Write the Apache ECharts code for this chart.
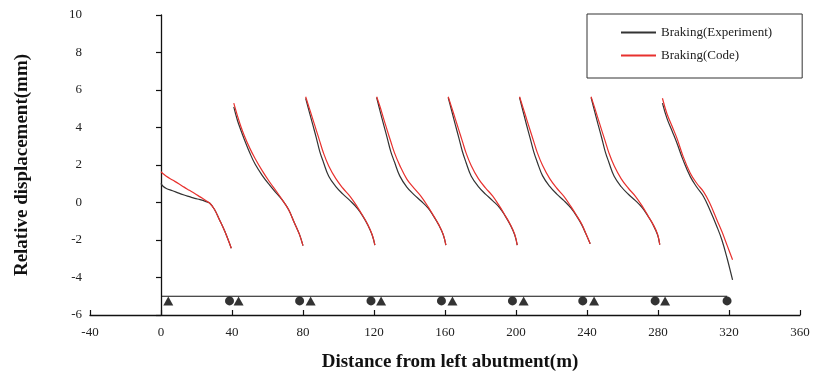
<!DOCTYPE html>
<html>
<head>
<meta charset="utf-8">
<script src="https://cdn.jsdelivr.net/npm/echarts@6/dist/echarts.min.js"></script>
<style>
html,body{margin:0;padding:0;background:#fff;}
#chart{width:816px;height:376px;}
</style>
</head>
<body>
<div id="chart"></div>
<script>
// ---- data ----
const seriesNames = ['Braking(Experiment)', 'Braking(Code)'];
const xTicks = [-40, 0, 40, 80, 120, 160, 200, 240, 280, 320, 360];
const yTicks = [-6, -4, -2, 0, 2, 4, 6, 8, 10];

const spanX = [
  [0, 1, 3, 6.5, 10, 13, 16, 19, 22, 25, 27.5, 30, 33, 36, 39.6],
  [41, 43, 45, 47, 50, 53, 57, 61, 65, 69, 72, 75, 78, 80],
  [81.5, 83.5, 85.5, 87.5, 89.5, 91.5, 94.5, 98.5, 102.5, 106.5, 110.5, 113.5, 116.5, 119, 120.5],
  [121.5, 123.5, 125.5, 127.5, 129.5, 131.5, 134.5, 138.5, 142.5, 146.5, 150.5, 153.5, 156.5, 159, 160.5],
  [161.8, 163.8, 165.8, 167.8, 169.8, 171.8, 174.8, 178.8, 182.8, 186.8, 190.8, 193.8, 196.8, 199.3, 200.7],
  [202, 204, 206, 208, 210, 212, 215, 219, 223, 227, 231, 234, 237, 239.5, 241.8],
  [242.3, 244.3, 246.3, 248.3, 250.3, 252.3, 255.3, 259.3, 263.3, 267.3, 271.3, 274.3, 277.3, 279.8, 281],
  [282.5, 285, 288, 290.7, 294, 298.2, 302, 305.7, 309, 313.2, 316, 319, 322]
];
const expY = [
  [1.02, 0.88, 0.75, 0.63, 0.5, 0.4, 0.31, 0.22, 0.15, 0.06, -0.04, -0.35, -0.93, -1.55, -2.44],
  [5.1, 4.4, 3.85, 3.35, 2.65, 2.05, 1.45, 0.95, 0.5, 0.05, -0.4, -1.05, -1.7, -2.3],
  [5.55, 4.85, 4.15, 3.45, 2.7, 2.15, 1.4, 0.85, 0.45, 0.1, -0.3, -0.7, -1.2, -1.75, -2.27],
  [5.6, 4.85, 4.13, 3.42, 2.7, 2.17, 1.42, 0.82, 0.42, 0.08, -0.3, -0.72, -1.2, -1.72, -2.27],
  [5.6, 4.88, 4.15, 3.45, 2.72, 2.15, 1.4, 0.85, 0.45, 0.1, -0.28, -0.7, -1.2, -1.74, -2.27],
  [5.6, 4.85, 4.12, 3.42, 2.7, 2.15, 1.42, 0.86, 0.45, 0.1, -0.3, -0.7, -1.18, -1.7, -2.2],
  [5.6, 4.86, 4.14, 3.44, 2.7, 2.15, 1.4, 0.84, 0.44, 0.1, -0.3, -0.72, -1.2, -1.74, -2.25],
  [5.3, 4.5, 3.8, 3.16, 2.3, 1.38, 0.8, 0.31, -0.35, -1.29, -2.0, -3.0, -4.13]
];
const codeY = [
  [1.64, 1.55, 1.4, 1.2, 1.0, 0.82, 0.65, 0.48, 0.3, 0.12, -0.04, -0.35, -0.93, -1.55, -2.44],
  [5.3, 4.65, 4.05, 3.55, 2.9, 2.35, 1.7, 1.12, 0.6, 0.05, -0.4, -1.05, -1.7, -2.3],
  [5.64, 5.05, 4.45, 3.85, 3.25, 2.65, 1.95, 1.27, 0.76, 0.33, -0.22, -0.68, -1.18, -1.72, -2.27],
  [5.64, 5.08, 4.45, 3.83, 3.24, 2.66, 1.98, 1.25, 0.77, 0.33, -0.23, -0.7, -1.18, -1.7, -2.27],
  [5.64, 5.06, 4.46, 3.86, 3.26, 2.66, 1.96, 1.27, 0.78, 0.35, -0.21, -0.68, -1.17, -1.7, -2.27],
  [5.64, 5.05, 4.44, 3.84, 3.25, 2.66, 1.97, 1.27, 0.76, 0.33, -0.22, -0.67, -1.15, -1.68, -2.2],
  [5.64, 5.06, 4.45, 3.85, 3.26, 2.66, 1.96, 1.26, 0.76, 0.33, -0.22, -0.7, -1.18, -1.7, -2.25],
  [5.56, 4.75, 4.05, 3.42, 2.5, 1.56, 1.0, 0.57, 0.0, -0.93, -1.55, -2.3, -3.05]
];
// beam line and supports
const beamX = [0, 319];
const beamY = -5;
const supportY = -5.25;
const circleX = [38.6, 78.1, 118.3, 158, 198, 237.6, 278.4, 318.9];
const triangleX = [4.1, 43.7, 84.3, 124, 164.2, 204.3, 244, 284];

// ---- chart ----
const serif = '"Liberation Serif", "DejaVu Serif", serif';
const series = [];
spanX.forEach((xs, i) => {
  series.push({
    type: 'line', name: seriesNames[0], symbol: 'none', smooth: 0.4,
    lineStyle: { color: '#333333', width: 1.2 }, itemStyle: { color: '#333333' },
    data: xs.map((x, j) => [x, expY[i][j]]), z: 3
  });
});
spanX.forEach((xs, i) => {
  series.push({
    type: 'line', name: seriesNames[1], symbol: 'none', smooth: 0.4,
    lineStyle: { color: '#e8312e', width: 1.2 }, itemStyle: { color: '#e8312e' },
    data: xs.map((x, j) => [x, codeY[i][j]]), z: 4
  });
});
series.push({
  type: 'line', name: 'beam', symbol: 'none', silent: true,
  lineStyle: { color: '#111', width: 1.2 },
  data: beamX.map(x => [x, beamY]), z: 2
});
series.push({
  type: 'scatter', name: 'pin', symbol: 'circle', symbolSize: 9,
  itemStyle: { color: '#000' }, data: circleX.map(x => [x, supportY]), z: 5
});
series.push({
  type: 'scatter', name: 'roller', symbol: 'triangle', symbolSize: [10, 9],
  itemStyle: { color: '#000' }, data: triangleX.map(x => [x, supportY]), z: 5
});

const chart = echarts.init(document.getElementById('chart'), null, { renderer: 'canvas' });
chart.setOption({
  animation: false,
  backgroundColor: '#fff',
  grid: { left: 90, right: 16, top: 15, bottom: 61, containLabel: false, outerBoundsMode: 'none' },
  legend: {
    data: seriesNames,
    orient: 'vertical',
    left: 587, top: 14,
    padding: [12, 30, 16, 33],
    itemWidth: 35, itemHeight: 14, itemGap: 10,
    itemStyle: { opacity: 0 },
    borderColor: '#333', borderWidth: 1,
    textStyle: { fontFamily: serif, fontSize: 13, color: '#222' }
  },
  xAxis: {
    type: 'value', min: xTicks[0], max: xTicks[xTicks.length - 1], interval: 40,
    name: 'Distance from left abutment(m)', nameLocation: 'middle', nameGap: 38,
    nameTextStyle: { fontFamily: serif, fontSize: 19, fontWeight: 'bold', color: '#111', padding: [0, 0, 0, 10] },
    axisLine: { onZero: false, lineStyle: { color: '#111', width: 1.3 } },
    axisTick: { inside: true, length: 5, lineStyle: { color: '#111', width: 1.2 } },
    axisLabel: { fontFamily: serif, fontSize: 13, color: '#222', margin: 11 },
    splitLine: { show: false }
  },
  yAxis: {
    type: 'value', min: yTicks[0], max: yTicks[yTicks.length - 1], interval: 2,
    name: 'Relative displacement(mm)', nameLocation: 'middle', nameGap: 58,
    nameTextStyle: { fontFamily: serif, fontSize: 19, fontWeight: 'bold', color: '#111' },
    axisLine: { show: true, onZero: true, lineStyle: { color: '#111', width: 1.3 } },
    axisTick: { show: true, inside: false, length: 5, lineStyle: { color: '#111', width: 1.2 } },
    axisLabel: { fontFamily: serif, fontSize: 13, color: '#222', margin: 8 },
    splitLine: { show: false }
  },
  series: series
});
</script>
</body>
</html>
